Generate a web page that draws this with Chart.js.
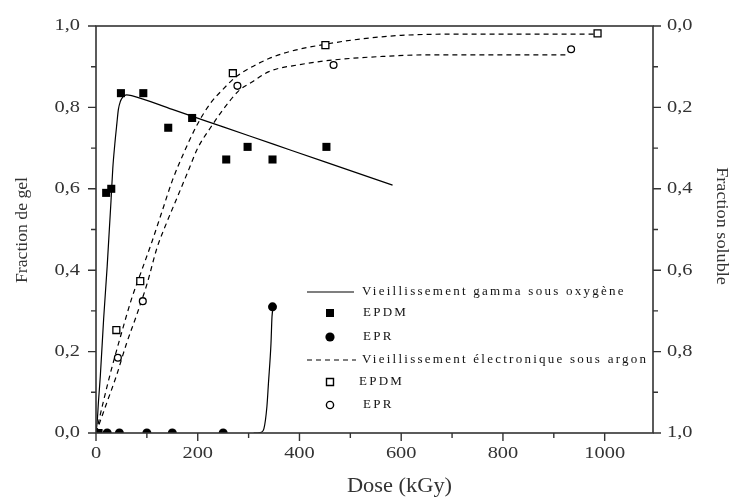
<!DOCTYPE html>
<html><head><meta charset="utf-8">
<script src="https://cdn.jsdelivr.net/npm/chart.js@4/dist/chart.umd.min.js"></script>
<style>html,body{margin:0;padding:0;background:#fff}#wrap{width:731px;height:497px;position:relative}</style>
</head><body><div id="wrap"><canvas id="c"></canvas></div>
<script>
// ---- measured points ----
const epdmGammaDose = [5, 20, 30, 49, 93, 142, 189, 256, 298, 347, 453];
const epdmGammaGel  = [0.0, 0.59, 0.60, 0.835, 0.835, 0.75, 0.774, 0.672, 0.703, 0.672, 0.703];
const eprGammaDose  = [22, 46, 100, 150, 250, 347];
const eprGammaGel   = [0, 0, 0, 0, 0, 0.31];
const epdmElecDose  = [40, 87, 269, 451, 986];
const epdmElecGel   = [0.253, 0.373, 0.884, 0.953, 0.982];
const eprElecDose   = [43, 92, 278, 467, 934];
const eprElecGel    = [0.185, 0.324, 0.853, 0.904, 0.943];
// ---- fitted curves ----
const fitGammaEpdmDose = [0, 2.5, 5, 8.5, 15, 22, 29.5, 33, 37, 41, 44, 48, 53, 60, 70, 150, 250, 350, 450, 583];
const fitGammaEpdmGel  = [0, 0.03, 0.08, 0.14, 0.28, 0.41, 0.57, 0.65, 0.71, 0.76, 0.795, 0.815, 0.826, 0.831, 0.829, 0.795, 0.752, 0.709, 0.666, 0.609];
const fitGammaEprDose  = [310, 317, 325, 330, 336, 339, 344, 346, 349];
const fitGammaEprGel   = [0, 0, 0.002, 0.01, 0.065, 0.122, 0.22, 0.286, 0.31];
const fitElecEpdmDose  = [0, 15, 30, 50, 70, 90, 110, 130, 150, 175, 200, 225, 250, 275, 300, 340, 380, 450, 520, 600, 700, 986];
const fitElecEpdmGel   = [0, 0.08, 0.155, 0.245, 0.33, 0.40, 0.47, 0.545, 0.62, 0.695, 0.76, 0.81, 0.845, 0.875, 0.895, 0.92, 0.937, 0.955, 0.968, 0.977, 0.98, 0.98];
const fitElecEprDose   = [0, 20, 40, 60, 80, 100, 120, 140, 160, 180, 200, 225, 250, 280, 310, 340, 400, 470, 560, 650, 930];
const fitElecEprGel    = [0, 0.07, 0.14, 0.22, 0.29, 0.365, 0.455, 0.52, 0.58, 0.64, 0.70, 0.75, 0.795, 0.84, 0.865, 0.888, 0.905, 0.917, 0.925, 0.929, 0.929];
// ---- ticks / texts ----
const xTickValues = [0, 200, 400, 600, 800, 1000];
const xTickLabels = ['0', '200', '400', '600', '800', '1000'];
const yTickValues = [0, 0.2, 0.4, 0.6, 0.8, 1.0];
const yTickLabels = ['0,0', '0,2', '0,4', '0,6', '0,8', '1,0'];
const y2TickLabels = ['0,0', '0,2', '0,4', '0,6', '0,8', '1,0'];
const xTitle = 'Dose (kGy)';
const yTitle = 'Fraction de gel';
const y2Title = 'Fraction soluble';
const legendLabels = ['Vieillissement gamma sous oxygène', 'EPDM', 'EPR', 'Vieillissement électronique sous argon', 'EPDM', 'EPR'];

const pts = (xs, ys) => xs.map((v, i) => ({x: v, y: ys[i]}));
const SERIF = '"Liberation Serif", "Times New Roman", serif';

function stext(ctx, txt, x, y, align, size, sx, rot) {
  ctx.save();
  ctx.translate(x, y);
  if (rot) ctx.rotate(rot);
  ctx.scale(sx, 1);
  ctx.font = size + 'px ' + SERIF;
  ctx.textAlign = align;
  ctx.textBaseline = 'middle';
  ctx.fillText(txt, 0, 0);
  ctx.restore();
}

const framePlugin = {
  id: 'frame',
  afterDraw(chart) {
    const {ctx, chartArea: a, scales} = chart;
    const x = scales.x, y = scales.y, y2 = scales.y2;
    ctx.save();
    ctx.strokeStyle = '#333';
    ctx.lineWidth = 1.6;
    ctx.strokeRect(a.left, a.top, a.right - a.left, a.bottom - a.top);
    ctx.lineWidth = 1.4;
    ctx.beginPath();
    for (let v = 0; v <= 1000; v += 100) {
      const px = x.getPixelForValue(v), L = v % 200 === 0 ? 8 : 5;
      ctx.moveTo(px, a.bottom); ctx.lineTo(px, a.bottom + L);
    }
    for (let i = 0; i <= 10; i++) {
      const v = i / 10, L = i % 2 === 0 ? 8 : 5;
      const p1 = y.getPixelForValue(v), p2 = y2.getPixelForValue(v);
      ctx.moveTo(a.left, p1); ctx.lineTo(a.left - L, p1);
      ctx.moveTo(a.right, p2); ctx.lineTo(a.right + L, p2);
    }
    ctx.stroke();
    ctx.fillStyle = '#333';
    xTickValues.forEach((v, i) => stext(ctx, xTickLabels[i], x.getPixelForValue(v), a.bottom + 21, 'center', 17, 1.2));
    yTickValues.forEach((v, i) => stext(ctx, yTickLabels[i], a.left - 16, y.getPixelForValue(v), 'right', 17, 1.2));
    yTickValues.forEach((v, i) => stext(ctx, y2TickLabels[i], a.right + 14, y2.getPixelForValue(v), 'left', 17, 1.2));
    stext(ctx, xTitle, (a.left + a.right) / 2 + 25, 487, 'center', 20, 1.12);
    stext(ctx, yTitle, 23, 230, 'center', 17, 1.04, -Math.PI / 2);
    stext(ctx, y2Title, 721, 226, 'center', 17, 1.07, Math.PI / 2);
    ctx.restore();
  }
};

const legendPlugin = {
  id: 'customLegend',
  afterDraw(chart) {
    const ctx = chart.ctx;
    ctx.save();
    ctx.strokeStyle = '#000'; ctx.fillStyle = '#000';
    const mx = 330, tx = [362, 363, 363, 362, 359, 363], ty = [292, 313, 337, 360, 382, 405];
    ctx.lineWidth = 1.2; ctx.setLineDash([]);
    ctx.beginPath(); ctx.moveTo(307, ty[0]); ctx.lineTo(354, ty[0]); ctx.stroke();
    ctx.fillRect(mx - 4, ty[1] - 4, 8, 8);
    ctx.beginPath(); ctx.arc(mx, ty[2], 4.6, 0, Math.PI * 2); ctx.fill();
    ctx.setLineDash([5, 4]);
    ctx.beginPath(); ctx.moveTo(307, ty[3]); ctx.lineTo(356, ty[3]); ctx.stroke();
    ctx.setLineDash([]);
    ctx.lineWidth = 1.4;
    ctx.fillStyle = '#fff';
    ctx.beginPath(); ctx.rect(mx - 3.5, ty[4] - 3.5, 7, 7); ctx.fill(); ctx.stroke();
    ctx.beginPath(); ctx.arc(mx, ty[5], 3.6, 0, Math.PI * 2); ctx.fill(); ctx.stroke();
    ctx.fillStyle = '#111';
    ctx.font = '13px ' + SERIF;
    ctx.textBaseline = 'middle'; ctx.textAlign = 'left';
    if ('letterSpacing' in ctx) ctx.letterSpacing = '2.25px';
    legendLabels.forEach((t, i) => ctx.fillText(t, tx[i], ty[i]));
    ctx.restore();
  }
};

const lineDs = (xs, ys, dashed) => ({
  type: 'line', data: pts(xs, ys), showLine: true, pointRadius: 0, borderColor: '#000',
  borderWidth: 1.2, borderDash: dashed ? [5, 4] : [], cubicInterpolationMode: 'monotone',
  fill: false, order: 2
});
const ptDs = (xs, ys, style, r, filled) => ({
  type: 'line', data: pts(xs, ys), showLine: false, pointStyle: style, pointRadius: r,
  backgroundColor: filled ? '#000' : '#fff', borderColor: '#000', borderWidth: filled ? 0 : 1.3,
  clip: 0, order: 1
});

new Chart(document.getElementById('c'), {
  type: 'line',
  data: {
    datasets: [
      lineDs(fitGammaEpdmDose, fitGammaEpdmGel, false),
      lineDs(fitGammaEprDose, fitGammaEprGel, false),
      lineDs(fitElecEpdmDose, fitElecEpdmGel, true),
      lineDs(fitElecEprDose, fitElecEprGel, true),
      ptDs(epdmGammaDose, epdmGammaGel, 'rect', 5.7, true),
      ptDs(eprGammaDose, eprGammaGel, 'circle', 4.5, true),
      ptDs(epdmElecDose, epdmElecGel, 'rect', 4.9, false),
      ptDs(eprElecDose, eprElecGel, 'circle', 3.4, false)
    ]
  },
  options: {
    responsive: true, maintainAspectRatio: false, animation: false,
    layout: {padding: {top: 26, left: 0, right: 0, bottom: 0}},
    plugins: {legend: {display: false}, tooltip: {enabled: false}},
    scales: {
      x: {type: 'linear', min: 0, max: 1095, grid: {display: false}, border: {display: false},
          ticks: {display: false}, afterFit(s) { s.height = 64; }},
      y: {type: 'linear', position: 'left', min: 0, max: 1, grid: {display: false}, border: {display: false},
          ticks: {display: false}, afterFit(s) { s.width = 96; }},
      y2: {type: 'linear', position: 'right', min: 0, max: 1, reverse: true, grid: {display: false},
           border: {display: false}, ticks: {display: false}, afterFit(s) { s.width = 78; }}
    }
  },
  plugins: [framePlugin, legendPlugin]
});
</script></body></html>
